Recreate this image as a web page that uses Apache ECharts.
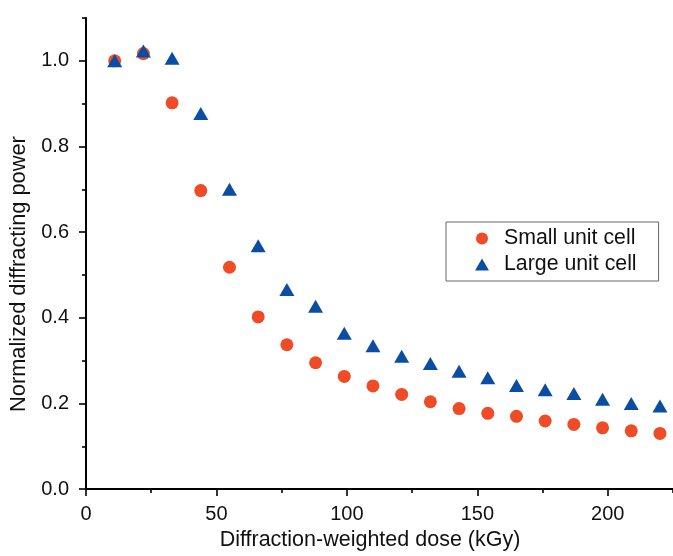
<!DOCTYPE html>
<html>
<head>
<meta charset="utf-8">
<script src="https://cdn.jsdelivr.net/npm/echarts@6/dist/echarts.min.js"></script>
<style>
html,body{margin:0;padding:0;background:#fff;}
#chart{width:673px;height:556px;}
</style>
</head>
<body>
<div id="chart"></div>
<script>
var doses = [11, 22, 33, 44, 55, 66, 77, 88, 99, 110, 121, 132, 143, 154, 165, 176, 187, 198, 209, 220];
var smallCell = [1.000, 1.017, 0.902, 0.697, 0.518, 0.402, 0.337, 0.295, 0.263, 0.241, 0.221, 0.204, 0.188, 0.177, 0.170, 0.159, 0.151, 0.143, 0.136, 0.130];
var largeCell = [1.000, 1.023, 1.006, 0.877, 0.700, 0.568, 0.466, 0.427, 0.364, 0.335, 0.310, 0.293, 0.275, 0.260, 0.242, 0.232, 0.223, 0.210, 0.200, 0.194];
var seriesNames = ['Small unit cell', 'Large unit cell'];
var xMajorTicks = [0, 50, 100, 150, 200];
var xMinorTicks = [25, 75, 125, 175, 225];
var yMajorTicks = [0, 0.2, 0.4, 0.6, 0.8, 1.0];
var yMinorTicks = [0.1, 0.3, 0.5, 0.7, 0.9, 1.1];
var xTitle = 'Diffraction-weighted dose (kGy)';
var yTitle = 'Normalized diffracting power';

function pairs(xs, ys) {
  return xs.map(function (x, i) { return [x, ys[i]]; });
}

var FONT = 'Liberation Sans, Arial, sans-serif';
var chart = echarts.init(document.getElementById('chart'), null, {renderer: 'canvas'});
chart.setOption({
  backgroundColor: '#ffffff',
  animation: false,
  textStyle: {fontFamily: FONT},
  grid: {left: 86, right: 0, top: 18, bottom: 63, containLabel: false},
  legend: {
    orient: 'vertical',
    left: 446,
    top: 222,
    padding: [6, 22, 6, 29],
    itemGap: 5,
    itemWidth: 14,
    itemHeight: 12,
    borderColor: '#666666',
    borderWidth: 1,
    formatter: function (name) { return '{g|}' + name; },
    textStyle: {fontSize: 21.3, color: '#111111', fontFamily: FONT,
      rich: {g: {width: 10, fontSize: 21.3}}},
    data: [
      {name: seriesNames[0], icon: 'circle'},
      {name: seriesNames[1], icon: 'triangle'}
    ]
  },
  xAxis: [{
    type: 'value',
    min: 0, max: 225,
    name: xTitle,
    nameLocation: 'middle',
    nameGap: 31,
    nameTextStyle: {fontSize: 21.5, color: '#111111', fontFamily: FONT, padding: [0, 19, 0, 0]},
    axisLine: {show: true, onZero: false, lineStyle: {color: '#000', width: 2}},
    axisTick: {show: true, length: 7, customValues: xMajorTicks, lineStyle: {color: '#000', width: 1.6}},
    axisLabel: {customValues: xMajorTicks, fontSize: 20, color: '#111111', margin: 15, fontFamily: FONT},
    splitLine: {show: false}
  }, {
    type: 'value',
    min: 0, max: 225,
    position: 'bottom',
    axisLine: {show: false},
    axisTick: {show: true, length: 4, customValues: xMinorTicks, lineStyle: {color: '#000', width: 1.6}},
    axisLabel: {show: false},
    splitLine: {show: false}
  }],
  yAxis: [{
    type: 'value',
    min: 0, max: 1.1,
    name: yTitle,
    nameLocation: 'middle',
    nameGap: 53,
    nameTextStyle: {fontSize: 21.8, color: '#111111', fontFamily: FONT, padding: [0, 41, 0, 0]},
    axisLine: {show: true, onZero: false, lineStyle: {color: '#000', width: 2}},
    axisTick: {show: true, length: 7, customValues: yMajorTicks, lineStyle: {color: '#000', width: 1.6}},
    axisLabel: {customValues: yMajorTicks, fontSize: 20, color: '#111111', margin: 17, fontFamily: FONT,
      formatter: function (v) { return v.toFixed(1); }},
    splitLine: {show: false}
  }, {
    type: 'value',
    min: 0, max: 1.1,
    position: 'left',
    axisLine: {show: false},
    axisTick: {show: true, length: 4, customValues: yMinorTicks, lineStyle: {color: '#000', width: 1.6}},
    axisLabel: {show: false},
    splitLine: {show: false}
  }],
  series: [{
    name: seriesNames[0],
    type: 'scatter',
    symbol: 'circle',
    symbolSize: 13,
    itemStyle: {color: '#EE4B26', opacity: 1},
    data: pairs(doses, smallCell),
    z: 2
  }, {
    name: seriesNames[1],
    type: 'scatter',
    symbol: 'triangle',
    symbolSize: [15, 13],
    itemStyle: {color: '#0B4DA2', opacity: 1},
    data: pairs(doses, largeCell),
    z: 3
  }]
});
</script>
</body>
</html>
